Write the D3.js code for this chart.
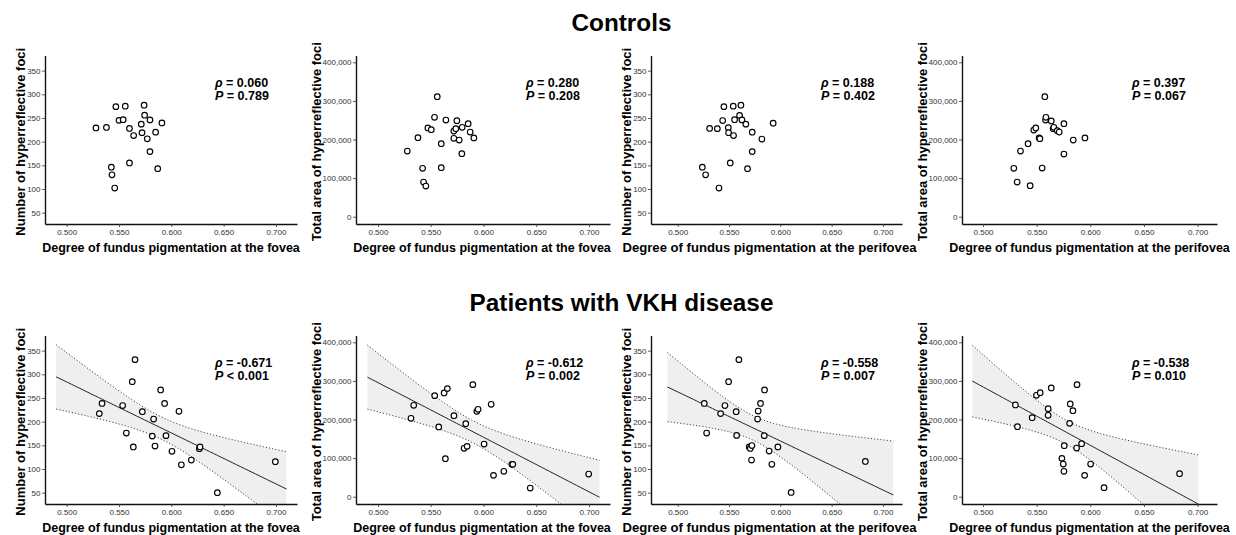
<!DOCTYPE html>
<html>
<head>
<meta charset="utf-8">
<script src="https://cdn.jsdelivr.net/npm/d3@7"></script>
<style>
  body { margin: 0; background: #fff; }
  text { font-family: Arial, "Liberation Sans", sans-serif; }
</style>
</head>
<body>
<div id="chart"></div>
<script>
// values, one x/y pair of arrays per panel
var ctrlFovCountX = [0.528, 0.538, 0.547, 0.556, 0.550, 0.554, 0.560, 0.564, 0.574, 0.5745, 0.5796, 0.5713, 0.572, 0.577, 0.591, 0.585, 0.5796, 0.5427, 0.5433, 0.5459, 0.560, 0.587];
var ctrlFovCountY = [229, 230, 274, 275, 245, 246.5, 228, 213, 277, 256, 246, 237, 219, 206, 239.5, 220, 179, 146, 130, 102, 155, 143];

var ctrlFovAreaX = [0.5278, 0.5379, 0.5473, 0.5505, 0.5536, 0.5562, 0.560, 0.5644, 0.560, 0.5423, 0.5432, 0.5454, 0.5719, 0.5738, 0.5748, 0.5798, 0.5855, 0.5874, 0.5909, 0.5719, 0.577, 0.5795];
var ctrlFovAreaY = [170200, 204700, 229800, 225500, 257400, 311000, 189200, 250500, 127000, 125300, 89800, 79500, 222000, 228000, 248800, 231500, 241000, 219400, 203900, 203000, 198700, 163300];

var ctrlPeriCountX = [0.524, 0.5272, 0.5311, 0.5386, 0.5402, 0.5438, 0.545, 0.5493, 0.5496, 0.5512, 0.5541, 0.5544, 0.5554, 0.5603, 0.5616, 0.5626, 0.5664, 0.568, 0.5726, 0.5726, 0.582, 0.593];
var ctrlPeriCountY = [146, 130, 228, 227.5, 102, 244.5, 274, 229.5, 219, 155, 275, 213, 246.5, 255.5, 277, 246, 237, 143, 220, 179, 205.5, 239];

var ctrlPeriAreaX = [0.5287, 0.5318, 0.5349, 0.542, 0.5439, 0.5473, 0.5492, 0.5523, 0.553, 0.5551, 0.5576, 0.5583, 0.5586, 0.5636, 0.5654, 0.566, 0.5692, 0.571, 0.5754, 0.5754, 0.5841, 0.595];
var ctrlPeriAreaY = [125300, 89800, 170200, 189200, 80300, 224600, 229800, 203900, 202000, 126000, 311000, 250500, 257400, 248000, 228000, 231500, 222900, 219400, 241000, 162400, 198700, 203900];

var vkhFovCountX = [0.5312, 0.5338, 0.5535, 0.557, 0.5627, 0.5653, 0.5637, 0.5723, 0.5831, 0.5818, 0.5844, 0.5898, 0.5936, 0.5949, 0.6006, 0.6073, 0.6096, 0.6191, 0.6268, 0.6274, 0.644, 0.6994];
var vkhFovCountY = [217, 238.5, 234, 176, 284.5, 331, 146.5, 221, 205.5, 169.5, 148.5, 267, 238.5, 170.5, 137.5, 222, 109, 119, 143, 146.5, 50, 115.5];

var vkhFovAreaX = [0.5313, 0.5339, 0.5538, 0.5576, 0.5627, 0.5658, 0.5639, 0.572, 0.5832, 0.5816, 0.5845, 0.5899, 0.5937, 0.5949, 0.6006, 0.6073, 0.6095, 0.6193, 0.6269, 0.6278, 0.6443, 0.6997];
var vkhFovAreaY = [203000, 236700, 261800, 180600, 268700, 280000, 98500, 209900, 189200, 125300, 130400, 290300, 221200, 226300, 136500, 239300, 55300, 65700, 83800, 83800, 22500, 58700];

var vkhPeriCountX = [0.5259, 0.5282, 0.5418, 0.546, 0.5496, 0.557, 0.5574, 0.5596, 0.5697, 0.5707, 0.5723, 0.5719, 0.5778, 0.5784, 0.5807, 0.5843, 0.5846, 0.5891, 0.5917, 0.5976, 0.6105, 0.6828];
var vkhPeriCountY = [238.5, 176, 217, 234, 284.5, 221, 171, 331, 146.5, 143.5, 149.5, 119, 205.5, 222.5, 238.5, 170.5, 267, 138, 110, 146.5, 50.5, 116];

var vkhPeriAreaX = [0.5302, 0.5321, 0.5458, 0.5498, 0.5533, 0.5607, 0.5607, 0.5636, 0.5735, 0.5748, 0.5754, 0.5757, 0.5807, 0.5813, 0.5838, 0.5872, 0.5876, 0.5919, 0.5947, 0.6003, 0.6128, 0.6832];
var vkhPeriAreaY = [237600, 181400, 204700, 262600, 269500, 228000, 210800, 281600, 99300, 84700, 65700, 132200, 190000, 240200, 222900, 126100, 290300, 137400, 55300, 84700, 23300, 59600];

var groupTitles = ["Controls", "Patients with VKH disease"];
var rhoLabels = ["0.060", "0.280", "0.188", "0.397", "-0.671", "-0.612", "-0.558", "-0.538"];
var pLabels = ["= 0.789", "= 0.208", "= 0.402", "= 0.067", "< 0.001", "= 0.002", "= 0.007", "= 0.010"];

var xTicks = [0.5, 0.55, 0.6, 0.65, 0.7];
var countTicks = [50, 100, 150, 200, 250, 300, 350];
var areaTicks = [0, 100000, 200000, 300000, 400000];

var countLabel = "Number of hyperreflective foci";
var areaLabel = "Total area of hyperreflective foci";
var foveaLabel = "Degree of fundus pigmentation at the fovea";
var perifoveaLabel = "Degree of fundus pigmentation at the perifovea";

var width = 1236, height = 535;

var svg = d3.select("#chart").append("svg")
    .attr("width", width)
    .attr("height", height);

// layout of the 4 columns and 2 rows
var cols = [
    {left: 45, right: 297, xdom: [0.4793, 0.7201], labOff: 20, xlabX: 171, xlabSize: 12.5},
    {left: 356, right: 610, xdom: [0.4792, 0.7199], labOff: 35, xlabX: 482, xlabSize: 12.5},
    {left: 651, right: 902, xdom: [0.474, 0.7185], labOff: 20, xlabX: 769.5, xlabSize: 13.1},
    {left: 962, right: 1217, xdom: [0.4804, 0.7181], labOff: 35, xlabX: 1089.5, xlabSize: 12.5}
];
var rows = [{top: 55.5, bottom: 224, title: 30.7}, {top: 335.5, bottom: 504, title: 310.7}];

var panels = [
    {xs: ctrlFovCountX, ys: ctrlFovCountY, kind: "count", xlab: foveaLabel},
    {xs: ctrlFovAreaX, ys: ctrlFovAreaY, kind: "area", xlab: foveaLabel},
    {xs: ctrlPeriCountX, ys: ctrlPeriCountY, kind: "count", xlab: perifoveaLabel},
    {xs: ctrlPeriAreaX, ys: ctrlPeriAreaY, kind: "area", xlab: perifoveaLabel},
    {xs: vkhFovCountX, ys: vkhFovCountY, kind: "count", xlab: foveaLabel, fit: [0.49, 0.71]},
    {xs: vkhFovAreaX, ys: vkhFovAreaY, kind: "area", xlab: foveaLabel, fit: [0.49, 0.71]},
    {xs: vkhPeriCountX, ys: vkhPeriCountY, kind: "count", xlab: perifoveaLabel, fit: [0.49, 0.71]},
    {xs: vkhPeriAreaX, ys: vkhPeriAreaY, kind: "area", xlab: perifoveaLabel, fit: [0.49, 0.701]}
];

// least squares line with 95% confidence band of the mean
function fitLine(xs, ys, x0, x1) {
    var n = xs.length;
    var mx = d3.mean(xs), my = d3.mean(ys);
    var sxx = d3.sum(xs, function(x) { return (x - mx) * (x - mx); });
    var sxy = d3.sum(xs.map(function(x, i) { return (x - mx) * (ys[i] - my); }));
    var b = sxy / sxx, a = my - b * mx;
    var sse = d3.sum(xs.map(function(x, i) { var r = ys[i] - a - b * x; return r * r; }));
    var s = Math.sqrt(sse / (n - 2));
    var t = 2.086; // t(0.975, 20)
    return d3.range(61).map(function(i) {
        var x = x0 + (x1 - x0) * i / 60;
        var yh = a + b * x;
        var se = s * Math.sqrt(1 / n + (x - mx) * (x - mx) / sxx);
        return {x: x, y: yh, lo: yh - t * se, hi: yh + t * se};
    });
}

// group titles
rows.forEach(function(r, i) {
    svg.append("text")
        .attr("x", 621.5)
        .attr("y", r.title)
        .attr("text-anchor", "middle")
        .style("font-size", "24.3px")
        .style("font-weight", "bold")
        .text(groupTitles[i]);
});

panels.forEach(function(p, i) {
    var c = cols[i % 4], r = rows[Math.floor(i / 4)];

    var x = d3.scaleLinear().domain(c.xdom).range([c.left, c.right]);
    var y = d3.scaleLinear()
        .domain(p.kind == "count" ? [26.1, 382] : [-18900, 417600])
        .range([r.bottom, r.top]);

    var g = svg.append("g");

    var clipId = "clip" + i;
    svg.append("clipPath").attr("id", clipId)
        .append("rect")
        .attr("x", c.left).attr("y", r.top)
        .attr("width", c.right - c.left).attr("height", r.bottom - r.top);

    if (p.fit) {
        var fl = fitLine(p.xs, p.ys, p.fit[0], p.fit[1]);
        var fg = g.append("g").attr("clip-path", "url(#" + clipId + ")");

        fg.append("path")
            .datum(fl)
            .attr("fill", "#efefef")
            .attr("d", d3.area()
                .x(function(d) { return x(d.x); })
                .y0(function(d) { return y(d.lo); })
                .y1(function(d) { return y(d.hi); }));

        ["lo", "hi"].forEach(function(k) {
            fg.append("path")
                .datum(fl)
                .attr("fill", "none")
                .attr("stroke", "#444")
                .attr("stroke-width", 1)
                .attr("stroke-dasharray", "1.2,2")
                .attr("d", d3.line()
                    .x(function(d) { return x(d.x); })
                    .y(function(d) { return y(d[k]); }));
        });

        fg.append("path")
            .datum(fl)
            .attr("fill", "none")
            .attr("stroke", "#222")
            .attr("stroke-width", 1)
            .attr("d", d3.line()
                .x(function(d) { return x(d.x); })
                .y(function(d) { return y(d.y); }));
    }

    // axes
    var xAxis = d3.axisBottom(x)
        .tickValues(xTicks)
        .tickFormat(d3.format(".3f"))
        .tickSizeInner(3).tickSizeOuter(0).tickPadding(2);
    var yAxis = d3.axisLeft(y)
        .tickValues(p.kind == "count" ? countTicks : areaTicks)
        .tickFormat(p.kind == "count" ? d3.format("d") : d3.format(","))
        .tickSizeInner(3).tickSizeOuter(0).tickPadding(1.5);

    [g.append("g").attr("transform", "translate(0," + r.bottom + ")").call(xAxis),
     g.append("g").attr("transform", "translate(" + c.left + ",0)").call(yAxis)]
        .forEach(function(ax) {
            ax.select(".domain").attr("stroke", "#111").attr("stroke-width", 1.4);
            ax.selectAll(".tick line").attr("stroke", "#333").attr("stroke-width", 0.8);
            ax.selectAll(".tick text")
                .attr("fill", "#333")
                .style("font-size", "8px")
                .style("font-family", "Arial, 'Liberation Sans', sans-serif");
        });

    // points
    g.selectAll("circle")
        .data(p.xs.map(function(v, k) { return [v, p.ys[k]]; }))
        .enter()
        .append("circle")
        .attr("cx", function(d) { return x(d[0]); })
        .attr("cy", function(d) { return y(d[1]); })
        .attr("r", 2.8)
        .attr("fill", "#fff")
        .attr("stroke", "#000")
        .attr("stroke-width", 1.15);

    // axis titles
    g.append("text")
        .attr("x", c.xlabX)
        .attr("y", r.bottom + 28)
        .attr("text-anchor", "middle")
        .style("font-size", c.xlabSize + "px")
        .style("font-weight", "bold")
        .text(p.xlab);

    g.append("text")
        .attr("transform", "translate(" + (c.left - c.labOff) + "," + ((r.top + r.bottom) / 2 + 2) + ") rotate(-90)")
        .attr("text-anchor", "middle")
        .style("font-size", "13px")
        .style("font-weight", "bold")
        .text(p.kind == "count" ? countLabel : areaLabel);

    // correlation annotation
    var tx = c.left + 170;
    var t1 = g.append("text")
        .attr("x", tx).attr("y", r.top + 31)
        .style("font-size", "12.5px").style("font-weight", "bold");
    t1.append("tspan").style("font-style", "italic").text("\u03c1");
    t1.append("tspan").text(" = " + rhoLabels[i]);

    var t2 = g.append("text")
        .attr("x", tx).attr("y", r.top + 44)
        .style("font-size", "12.5px").style("font-weight", "bold");
    t2.append("tspan").style("font-style", "italic").text("P");
    t2.append("tspan").text(" " + pLabels[i]);
});
</script>
</body>
</html>
